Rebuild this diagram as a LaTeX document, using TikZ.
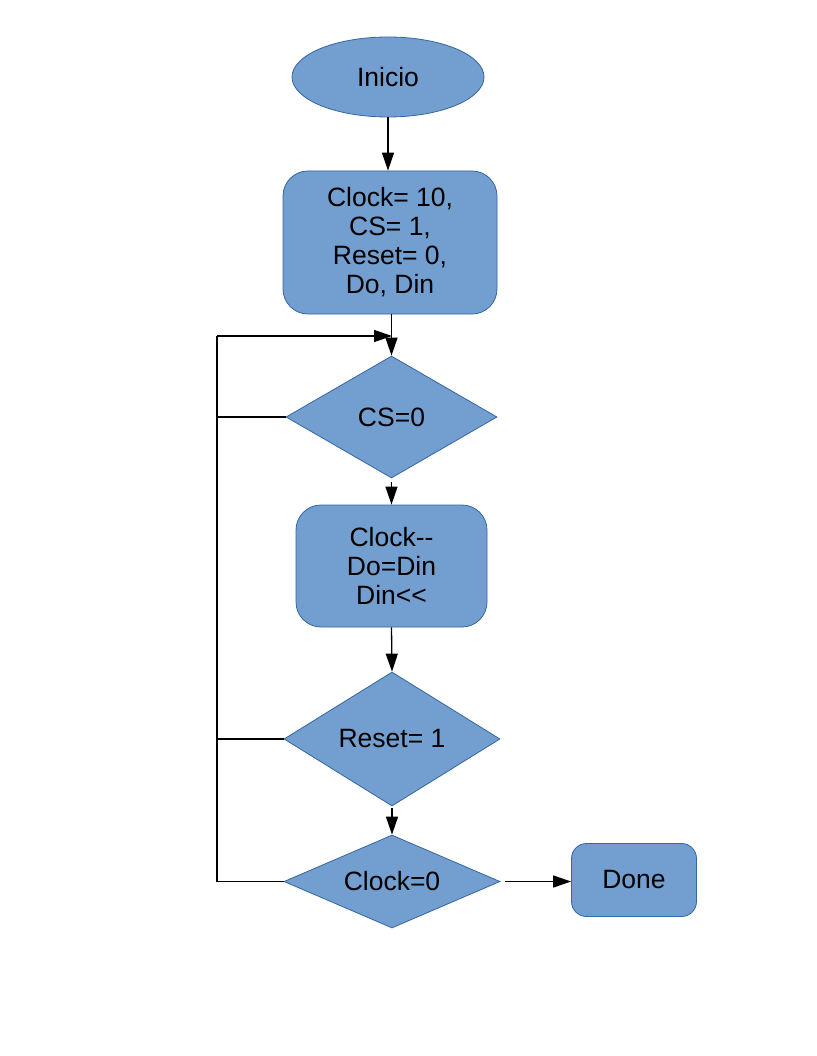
\documentclass[tikz,border=0pt]{standalone}
\usepackage{fontspec}
\setmainfont{Liberation Sans}
\usetikzlibrary{shapes.geometric,arrows.meta}
\definecolor{fillblue}{HTML}{729FCF}
\definecolor{edgeblue}{HTML}{3465A4}
\begin{document}
\begin{tikzpicture}[x=1pt,y=-1pt,
  every node/.style={font=\fontsize{26.5}{29}\selectfont, inner sep=0pt},
  base/.style={fill=fillblue, draw=edgeblue, line width=0.8pt, align=center},
  startnode/.style={base, ellipse, minimum width=192pt, minimum height=80pt},
  procbox/.style={base, rectangle, rounded corners=25pt},
  decide/.style={base, diamond},
  conn/.style={line width=1.3pt, -{Triangle[length=18pt,width=12pt]}},
  plainline/.style={line width=1.3pt}
]
\useasboundingbox (0,0) rectangle (816,1056);
\node[startnode] (ini) at (388,77) {Inicio};
\node[procbox, minimum width=214pt, minimum height=143pt] (b1) at (390,242.5) {Clock= 10,\\CS= 1,\\Reset= 0,\\Do, Din};
\node[decide, shape aspect=1.73, minimum width=211pt, minimum height=122pt] (cs) at (391.5,417) {CS=0};
\node[procbox, minimum width=191pt, minimum height=122pt] (b2) at (391.5,566) {Clock-{}-\\Do=Din\\Din<{}<};
\node[decide, shape aspect=1.61, minimum width=216pt, minimum height=134pt] (rst) at (392,739) {Reset= 1};
\node[decide, shape aspect=2.32, minimum width=216pt, minimum height=93pt] (clk) at (392,881.5) {Clock=0};
\node[procbox, rounded corners=15pt, minimum width=125pt, minimum height=73pt] (done) at (634,880) {Done};

\coordinate (lt) at (217,336);
\coordinate (lb) at (217,881.5);
\coordinate (mt) at (392,336);

\draw[conn] (ini.south) -- (b1.north -| ini.south);
\draw[conn] (b1.south -| cs.north) -- (cs.north);
\draw[conn, shorten <=4pt] (cs.south) -- (b2.north);
\draw[conn] (b2.south) -- (rst.north);
\draw[conn, shorten <=2pt] (rst.south) -- (clk.north);
\draw[conn, shorten <=5pt] (clk.east) -- (done.west |- clk.east);
\draw[plainline] (clk.west) -- (lb) -- (lt);
\draw[conn] (lt) -- (mt);
\draw[plainline] (cs.west) -- (cs.west -| lt);
\draw[plainline] (rst.west) -- (rst.west -| lt);
\end{tikzpicture}
\end{document}
